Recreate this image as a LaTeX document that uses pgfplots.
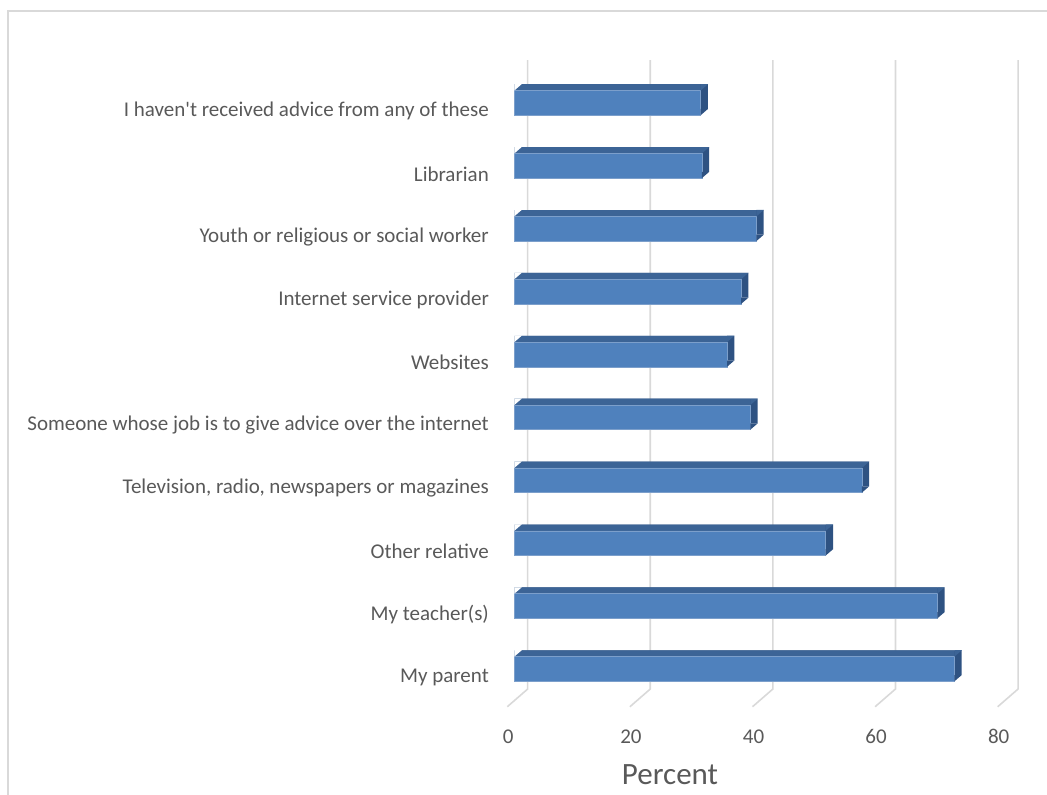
\documentclass[border=0pt]{standalone}
\usepackage{fontspec}
\setmainfont{Carlito}
\usepackage{pgfplots}
\pgfplotsset{compat=1.18}
\definecolor{barfront}{HTML}{4F81BD}
\definecolor{bartop}{HTML}{3C6496}
\definecolor{barside}{HTML}{2E5282}
\definecolor{baredge}{HTML}{7C9FCB}
\definecolor{gridc}{HTML}{D9D9D9}
\definecolor{txt}{HTML}{595959}
% corner triangles for the oblique 3D faces (relative to the bar's front-face centre line)
\pgfdeclareplotmark{cornerup}{%
  \pgfpathmoveto{\pgfqpoint{0pt}{12.35pt}}%
  \pgfpathlineto{\pgfqpoint{0pt}{18.75pt}}%
  \pgfpathlineto{\pgfqpoint{7.4pt}{18.75pt}}%
  \pgfpathclose\pgfusepathqfill}
\pgfdeclareplotmark{cornerdown}{%
  \pgfpathmoveto{\pgfqpoint{0pt}{-12.35pt}}%
  \pgfpathlineto{\pgfqpoint{7.3pt}{-6.05pt}}%
  \pgfpathlineto{\pgfqpoint{0pt}{-6.05pt}}%
  \pgfpathclose\pgfusepathqfill}
\begin{document}
\begin{tikzpicture}
\useasboundingbox (0,0) rectangle (1047pt,795pt);
\draw[gridc, line width=1.5pt] (8pt,784pt) rectangle (1070pt,-20pt);
\begin{axis}[
  at={(514.3pt,94.55pt)}, anchor=south west,
  scale only axis, width=490.4pt, height=629pt,
  xmin=0, xmax=80, ymin=-0.5, ymax=9.5,
  clip=false,
  axis line style={draw=none},
  major tick length=0pt,
  xtick={0,20,40,60,80},
  xticklabels={0,20,40,60,80},
  ytick={0,...,9},
  yticklabels={My parent, My teacher(s), Other relative,
    {Television, radio, newspapers or magazines},
    Someone whose job is to give advice over the internet,
    Websites, Internet service provider,
    Youth or religious or social worker, Librarian,
    I haven\textquotesingle t received advice from any of these},
  ticklabel style={font=\fontsize{21pt}{25pt}\selectfont, text=txt},
  xticklabel style={anchor=center, inner sep=0pt, xshift=-6pt, yshift=-36.25pt},
  yticklabel style={anchor=east, inner sep=0pt, xshift=-25.3pt, yshift=-8pt},
  xlabel={Percent},
  xlabel style={at={(axis description cs:0.3175,-0.1185)}, anchor=center,
    inner sep=0pt, font=\fontsize{31pt}{36pt}\selectfont, text=txt},
]
\pgfplotsinvokeforeach{0,20,40,60,80}{
  \draw[gridc, line width=1.6pt]
    ([xshift=13.4pt]axis cs:#1,9.68) -- ([xshift=13.4pt]axis cs:#1,-0.318)
    -- ([xshift=-7pt]axis cs:#1,-0.6);
}
% side faces (offset back)
\addplot[xbar, bar shift=0pt, bar width=24.7pt, fill=barside, draw=none,
  xshift=7.3pt, yshift=6.3pt] coordinates {
  (71.8,0) (69.0,1) (50.8,2) (56.7,3) (38.5,4)
  (34.7,5) (37.0,6) (39.5,7) (30.6,8) (30.4,9)};
% top faces
\addplot[xbar, bar shift=0pt, bar width=24.7pt, fill=bartop, draw=none,
  yshift=6.3pt] coordinates {
  (71.8,0) (69.0,1) (50.8,2) (56.7,3) (38.5,4)
  (34.7,5) (37.0,6) (39.5,7) (30.6,8) (30.4,9)};
% front faces
\addplot[xbar, bar shift=0pt, bar width=24.7pt, fill=barfront, draw=baredge,
  line width=0.6pt] coordinates {
  (71.8,0) (69.0,1) (50.8,2) (56.7,3) (38.5,4)
  (34.7,5) (37.0,6) (39.5,7) (30.6,8) (30.4,9)};
% bevel corners: back-left (white), top-right (top colour), bottom-right (side colour)
\addplot[only marks, mark=cornerup, mark options={fill=white, draw=none}] coordinates {
  (0,0) (0,1) (0,2) (0,3) (0,4) (0,5) (0,6) (0,7) (0,8) (0,9)};
\addplot[only marks, mark=cornerup, mark options={fill=bartop, draw=none}] coordinates {
  (71.8,0) (69.0,1) (50.8,2) (56.7,3) (38.5,4)
  (34.7,5) (37.0,6) (39.5,7) (30.6,8) (30.4,9)};
\addplot[only marks, mark=cornerdown, mark options={fill=barside, draw=none}] coordinates {
  (71.8,0) (69.0,1) (50.8,2) (56.7,3) (38.5,4)
  (34.7,5) (37.0,6) (39.5,7) (30.6,8) (30.4,9)};
\end{axis}
\end{tikzpicture}
\end{document}
